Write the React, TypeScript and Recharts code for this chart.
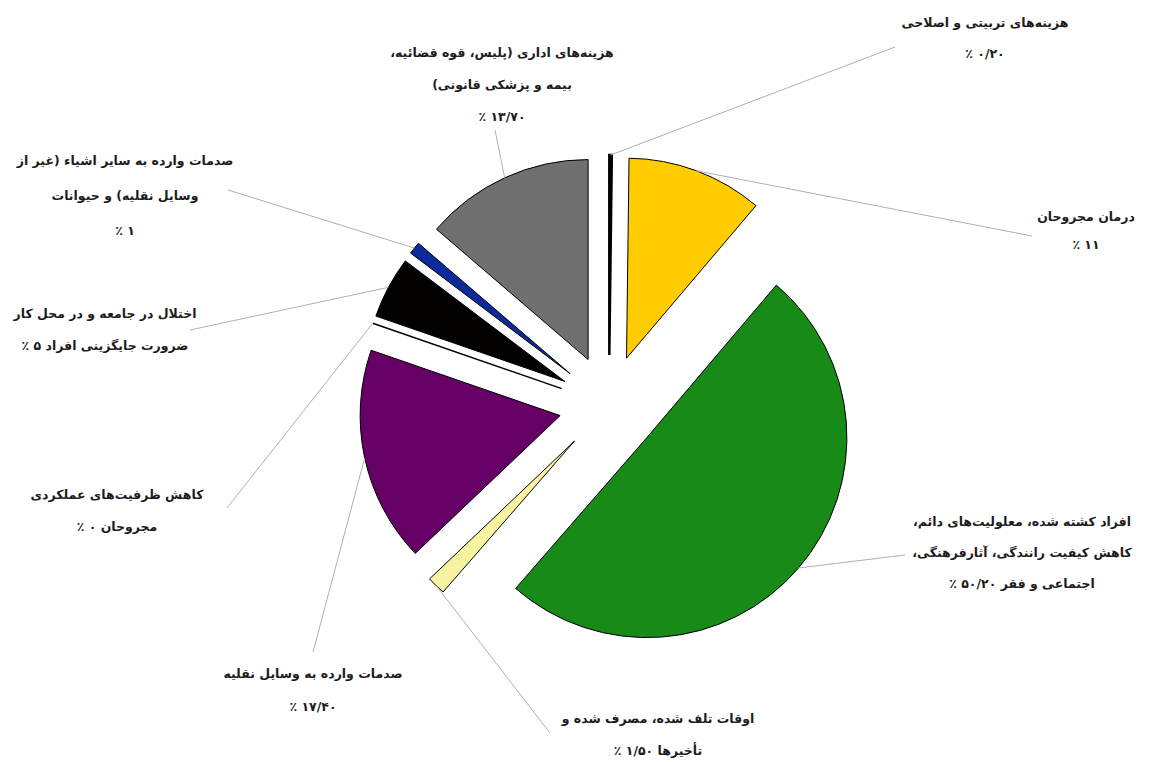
import { PieChart, Pie, Cell, Sector } from "recharts";

// slice order: clockwise from 12 o'clock
const VALUES = [0.2, 11, 50.2, 1.5, 17.4, 0, 5, 1, 13.7];
const PCT_TEXT = ["۰/۲۰", "۱۱", "۵۰/۲۰", "۱/۵۰", "۱۷/۴۰", "۰", "۵", "۱", "۱۳/۷۰"];
const LABEL_LINES = [
  ["هزینه‌های تربیتی و اصلاحی", "{p} ٪"],
  ["درمان مجروحان", "{p} ٪"],
  ["افراد کشته شده، معلولیت‌های دائم،", "کاهش کیفیت رانندگی، آثارفرهنگی،", "اجتماعی و فقر {p} ٪"],
  ["اوقات تلف شده، مصرف شده و", "تأخیرها {p} ٪"],
  ["صدمات وارده به وسایل نقلیه", "{p} ٪"],
  ["کاهش ظرفیت‌های عملکردی", "مجروحان {p} ٪"],
  ["اختلال در جامعه و در محل کار", "ضرورت جایگزینی افراد {p} ٪"],
  ["صدمات وارده به سایر اشیاء (غیر از", "وسایل نقلیه) و حیوانات", "{p} ٪"],
  ["هزینه‌های اداری (پلیس، قوه قضائیه،", "بیمه و پزشکی قانونی)", "{p} ٪"],
];
const COLORS = ["#ffffff", "#ffcc00", "#178a17", "#f8f3a0", "#660066", "#ffffff", "#050000", "#0b2a9c", "#707070"];

// label layout: text centre x, first line y, line gap, leader end
const LABEL_POS = [
  { x: 985, y: 22, gap: 31, lx: 895, ly: 47 },
  { x: 1086, y: 216, gap: 28, lx: 1032, ly: 236 },
  { x: 1022, y: 521, gap: 31, lx: 905, ly: 555 },
  { x: 658, y: 718, gap: 32, lx: 550, ly: 733 },
  { x: 313, y: 673, gap: 33, lx: 313, ly: 652 },
  { x: 117, y: 494, gap: 32, lx: 227, ly: 508 },
  { x: 105, y: 313, gap: 32, lx: 190, ly: 330 },
  { x: 125, y: 160, gap: 35, lx: 228, ly: 190 },
  { x: 502, y: 52, gap: 32, lx: 495, ly: 130 },
];

const data = VALUES.map((v, i) => ({ name: LABEL_LINES[i][0], value: v }));

const EXPLODE = 50;
const RAD = Math.PI / 180;

function ExplodedSector(props: any) {
  const { cx, cy, midAngle } = props;
  const dx = EXPLODE * Math.cos(-midAngle * RAD);
  const dy = EXPLODE * Math.sin(-midAngle * RAD);
  return <Sector {...props} cx={cx + dx} cy={cy + dy} />;
}

function renderLabel(props: any) {
  const { cx, cy, midAngle, outerRadius, index, value } = props;
  const pos = LABEL_POS[index];
  const ux = Math.cos(-midAngle * RAD);
  const uy = Math.sin(-midAngle * RAD);
  const r = outerRadius + EXPLODE;
  const ax = cx + r * ux;
  const ay = cy + r * uy;
  const lines = LABEL_LINES[index].map((l) => l.replace("{p}", PCT_TEXT[index]));
  return (
    <g key={`lbl-${index}`}>
      {/* zero-size slice: the library draws no sector, so show its edge */}
      {value === 0 && (
        <line
          x1={cx + EXPLODE * ux}
          y1={cy + EXPLODE * uy}
          x2={ax}
          y2={ay}
          stroke="#000"
          strokeWidth={1.5}
        />
      )}
      <line x1={ax} y1={ay} x2={pos.lx} y2={pos.ly} stroke="#b0b0b0" strokeWidth={1} />
      <text
        x={pos.x}
        y={pos.y}
        textAnchor="middle"
        direction="rtl"
        dominantBaseline="central"
        fontFamily="DejaVu Sans, sans-serif"
        fontWeight="bold"
        fontSize={12.5}
        fill="#1c1c1c"
      >
        {lines.map((l, i) => (
          <tspan key={i} x={pos.x} y={pos.y + i * pos.gap}>
            {l}
          </tspan>
        ))}
      </text>
    </g>
  );
}

export default function App() {
  return (
    <div style={{ position: "absolute", left: 0, top: 0, width: 1149, height: 762, background: "#fff" }}>
      <PieChart width={1149} height={762} margin={{ top: 0, right: 0, bottom: 0, left: 0 }}>
        <Pie
          data={data}
          dataKey="value"
          cx={609}
          cy={405}
          outerRadius={200}
          startAngle={90}
          endAngle={-270}
          stroke="#000"
          strokeWidth={1}
          shape={ExplodedSector}
          label={renderLabel}
          labelLine={false}
          isAnimationActive={false}
        >
          {data.map((_, i) => (
            <Cell key={i} fill={COLORS[i]} strokeWidth={i === 0 ? 2.5 : 1} />
          ))}
        </Pie>
      </PieChart>
    </div>
  );
}
